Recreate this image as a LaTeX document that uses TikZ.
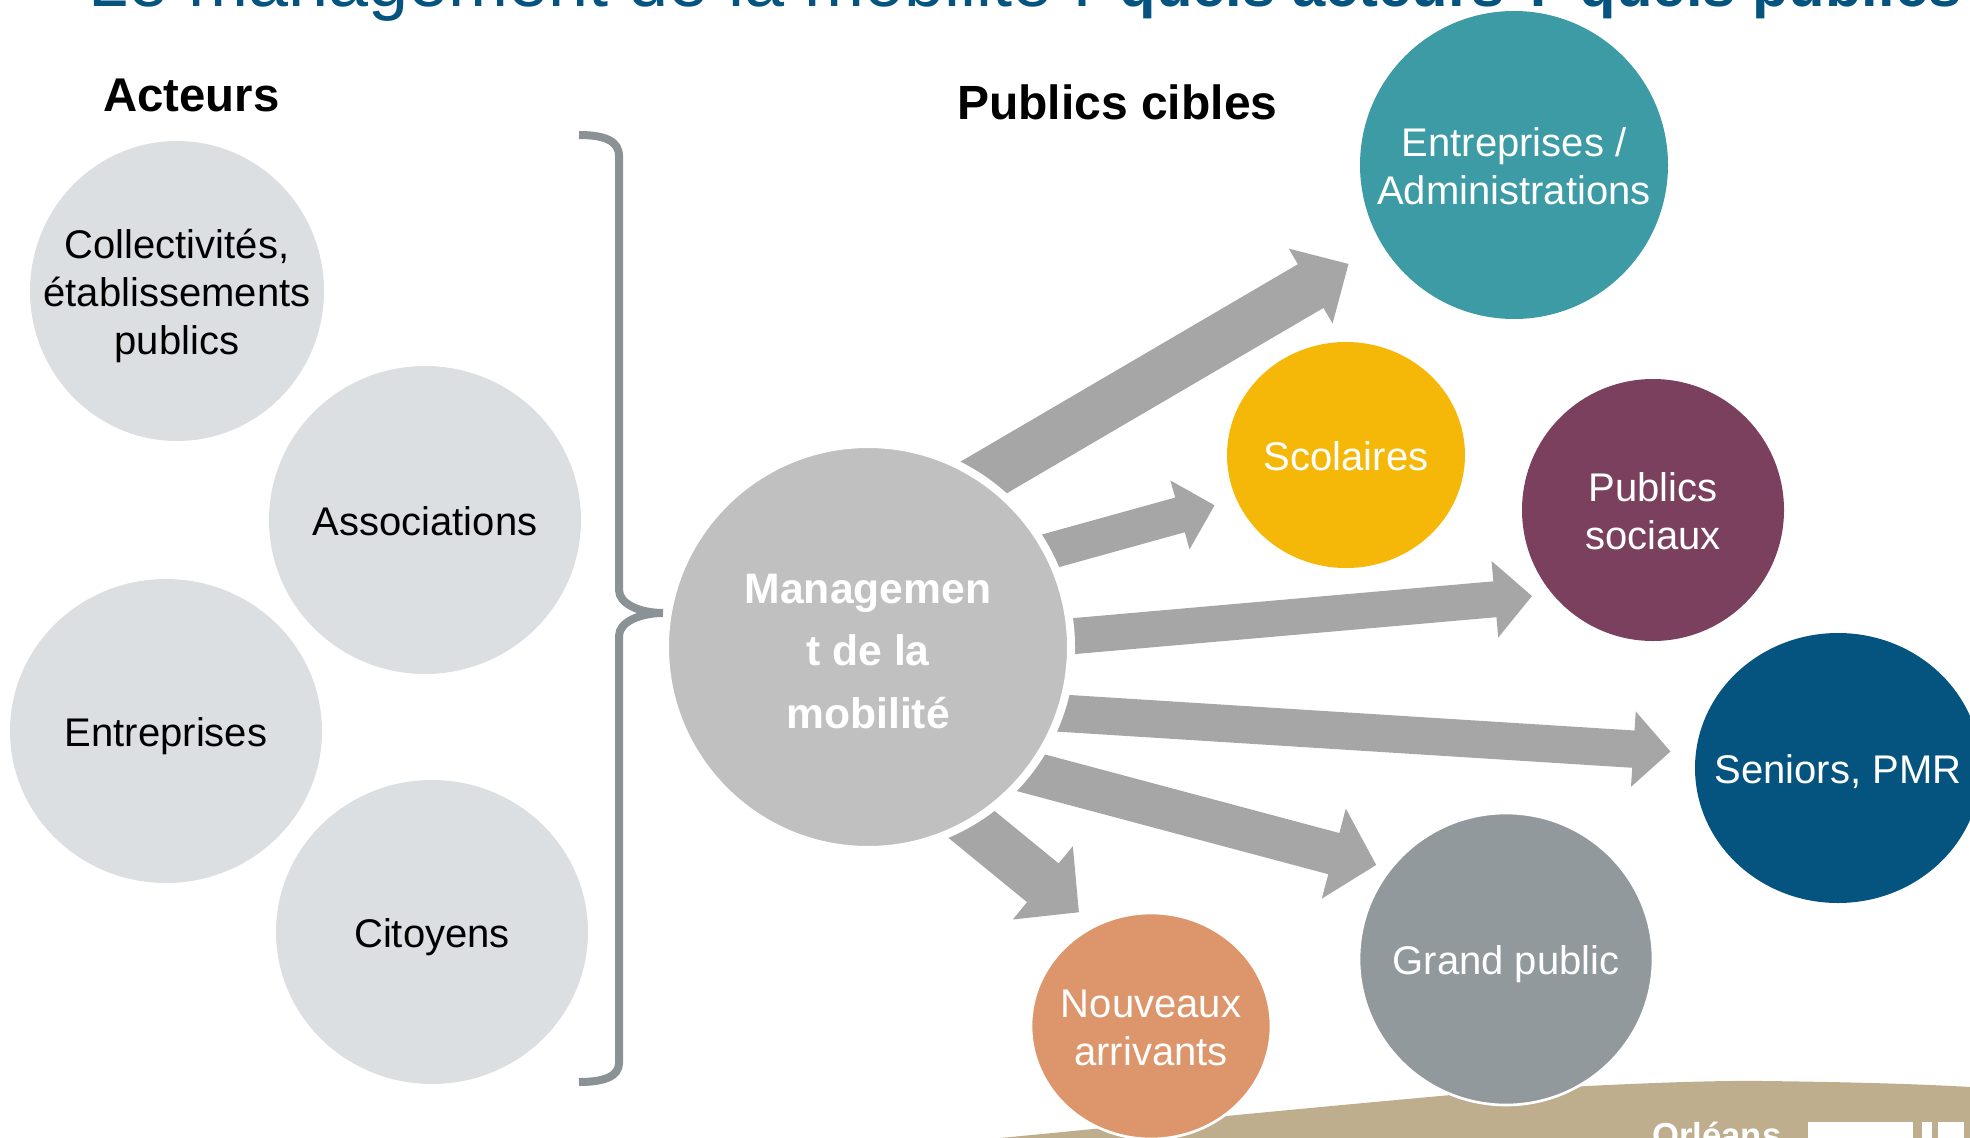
\documentclass[tikz,border=0pt]{standalone}
\usepackage{fontspec}
\setmainfont{Liberation Sans}
\usetikzlibrary{arrows.meta,shapes.geometric,backgrounds}
\definecolor{titre}{RGB}{5,84,127}
\definecolor{gris}{RGB}{220,223,226}
\definecolor{fleche}{RGB}{166,166,166}
\definecolor{centre}{RGB}{192,192,192}
\definecolor{accolade}{RGB}{138,146,150}
\definecolor{sable}{RGB}{191,174,142}
\definecolor{turquoise}{RGB}{60,155,165}
\definecolor{jaune}{RGB}{245,184,8}
\definecolor{prune}{RGB}{122,64,94}
\definecolor{ardoise}{RGB}{146,153,156}
\definecolor{saumon}{RGB}{221,150,107}
\newcommand{\etiq}[1]{\raisebox{-11pt}[0pt][0pt]{\makebox[0pt]{\begin{tabular}{@{}c@{}}#1\end{tabular}}}}
\tikzset{
  acteur/.style={ellipse,fill=gris,inner sep=0pt,outer sep=0pt,font=\fontsize{30}{36}\selectfont},
  public/.style={ellipse,fill=#1,text=white,inner sep=0pt,outer sep=0pt,font=\fontsize{30}{36}\selectfont},
  titrecol/.style={anchor=base west,inner sep=0pt,font=\bfseries},
  grosse/.style n args={3}{fleche,line width=#1,shorten <=-15pt,-{Triangle[width=#2,length=#3]}},
}
\begin{document}
\begin{tikzpicture}[x=0.75pt,y=0.75pt,yscale=-1,xscale=1]
\useasboundingbox (0,0) rectangle (1970,1138);
\clip (0,0) rectangle (1970,1138);
% Ground
\fill [sable] (1000,1138) .. controls (1096,1129) and (1230,1115) .. (1451,1095) .. controls (1560,1086) and (1700,1080) .. (1763,1081) .. controls (1850,1082) and (1920,1084) .. (1970,1087) -- (1970,1138) -- cycle ;
% Text Node
\draw (1652,1147) node [anchor=base west] [inner sep=0pt] [text=white,font=\fontsize{26}{30}\selectfont\bfseries] (orleans) {Orléans};
% Logo
\fill [white] (1808,1122) rectangle (1913,1138) ;
\fill [white] (1922,1122) rectangle (1932,1138) ;
\fill [white] (1938,1122) rectangle (1964,1138) ;
% Title
\draw (88,7) node [anchor=base west] [inner sep=0pt] [text=titre,font=\fontsize{54}{60}\selectfont] (titreslide) {Le management de la mobilité : {\fontsize{44.8}{50}\selectfont\bfseries quels acteurs ? quels publics}};
% Text Node
\draw (103,111) node [titrecol] (acteurs) {\fontsize{35.5}{40}\selectfont Acteurs};
% Text Node
\draw (957,119) node [titrecol] (publics) {\fontsize{36}{40}\selectfont Publics cibles};
% Left circles
\draw (177,291) node [acteur,minimum width=220.5pt,minimum height=225pt] (collectivites) {\etiq{Collectivités,\ \\établissements\ \\publics}};
\draw (425,520) node [acteur,minimum width=234pt,minimum height=231pt] (associations) {\etiq{Associations}};
\draw (166,731) node [acteur,minimum width=234pt,minimum height=228pt] (entreprises) {\etiq{Entreprises}};
\draw (432,932) node [acteur,minimum width=234pt,minimum height=228pt] (citoyens) {\etiq{Citoyens}};
% Brace
\draw [accolade,line width=6pt] (579,135) .. controls (605,135) and (619,141) .. (619,156) -- (619,590) .. controls (619,604) and (640,613) .. (663,613) .. controls (640,613) and (619,622) .. (619,636) -- (619,1063) .. controls (619,1076) and (605,1082) .. (579,1082) ;
% Centre
\draw (868,647) node [circle,fill=centre,draw=white,line width=6pt,text=white,inner sep=0pt,outer sep=0pt,minimum size=304.5pt,font=\fontsize{32}{47}\selectfont\bfseries] (management) {\etiq{Managemen\\t de la\\mobilité}};
% Right circles
\draw (1514,165) node [public=turquoise,minimum width=231pt,minimum height=231pt] (administrations) {\etiq{Entreprises /\ \\Administrations}};
\draw (1346,455) node [public=jaune,minimum width=178.5pt,minimum height=169.5pt] (scolaires) {\etiq{Scolaires}};
\draw (1653,510) node [public=prune,minimum width=196.5pt,minimum height=196.5pt] (sociaux) {\etiq{Publics\ \\sociaux}};
\draw (1838,768) node [public=titre,minimum width=214.5pt,minimum height=202.5pt] (seniors) {\etiq{Seniors, PMR}};
\draw (1506,959) node [public=ardoise,draw=white,line width=2pt,minimum width=220.5pt,minimum height=219pt] (grandpublic) {\etiq{Grand public}};
\draw (1151,1026) node [public=saumon,draw=white,line width=2pt,minimum width=180pt,minimum height=169.5pt] (nouveaux) {\etiq{Nouveaux\ \\arrivants}};
% Arrows
\begin{pgfonlayer}{background}
\draw [grosse={38pt}{63pt}{33pt},shorten >=29pt] (management.56.5) -- (administrations.211.5) ;
\draw [grosse={27pt}{52pt}{27pt},shorten >=17pt] (management.28) -- (scolaires.202) ;
\draw [grosse={27pt}{56pt}{28pt},shorten >=15.5pt] (management.3.6) -- (sociaux.220.6) ;
\draw [grosse={28pt}{55pt}{28pt},shorten >=19pt] (management.-19) -- (seniors.174.6) ;
\draw [grosse={32pt}{68pt}{33pt},shorten >=11pt] (management.-38) -- (grandpublic.142.9) ;
\draw [grosse={37.5pt}{69pt}{35pt},shorten >=16pt] (management.-60.8) -- (nouveaux.119.6) ;
\end{pgfonlayer}
\end{tikzpicture}
\end{document}
